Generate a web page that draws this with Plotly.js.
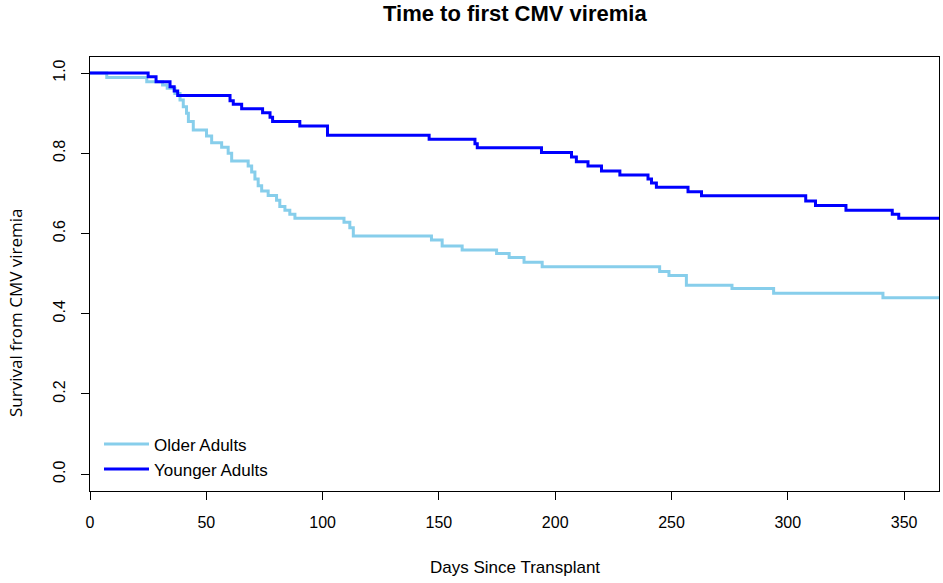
<!DOCTYPE html>
<html>
<head>
<meta charset="utf-8">
<script src="https://cdn.plot.ly/plotly-3.0.1.min.js"></script>
<style>html,body{margin:0;padding:0;background:#fff;}#chart{width:943px;height:583px;}</style>
</head>
<body>
<div id="chart"></div>
<script>
// Kaplan-Meier step data
var olderDays = [0, 7.2, 24.4, 31.2, 33.2, 36.5, 38.7, 40.1, 41.5, 42.3, 44.4, 50.1, 52.3, 56.6, 59.4, 60.9, 68.0, 69.5, 70.9, 72.3, 73.8, 76.6, 80.2, 81.6, 83.8, 85.9, 88.1, 109.2, 111.7, 113.2, 146.8, 151.4, 160, 174.8, 180.2, 186.6, 194.4, 244.9, 248.9, 256.4, 276, 293.9, 340.9, 365];
var olderSurv = [1.0, 0.989, 0.978, 0.970, 0.962, 0.949, 0.933, 0.916, 0.900, 0.879, 0.858, 0.843, 0.826, 0.815, 0.800, 0.781, 0.768, 0.753, 0.736, 0.719, 0.706, 0.695, 0.683, 0.667, 0.658, 0.648, 0.638, 0.628, 0.614, 0.594, 0.584, 0.569, 0.559, 0.550, 0.540, 0.528, 0.517, 0.505, 0.495, 0.471, 0.463, 0.451, 0.440, 0.440];
var youngerDays = [0, 25, 28.4, 34.4, 36.2, 37.7, 60.2, 61.6, 65.2, 74.2, 77.4, 78.5, 90.2, 102.1, 145.8, 165.5, 166.5, 194.1, 207, 209.1, 214.1, 219.9, 227.8, 239.9, 241.4, 243.5, 257.1, 262.9, 307.7, 311.9, 325, 344.9, 347.7, 365];
var youngerSurv = [1.0, 0.991, 0.978, 0.966, 0.955, 0.944, 0.931, 0.922, 0.911, 0.901, 0.890, 0.879, 0.868, 0.845, 0.835, 0.824, 0.814, 0.802, 0.791, 0.779, 0.768, 0.756, 0.746, 0.736, 0.726, 0.715, 0.704, 0.694, 0.681, 0.670, 0.658, 0.648, 0.638, 0.638];
var seriesNames = ["Older Adults", "Younger Adults"];
var xTicks = [0, 50, 100, 150, 200, 250, 300, 350];
var yTicks = [0.0, 0.2, 0.4, 0.6, 0.8, 1.0];
var yTickText = ["0.0", "0.2", "0.4", "0.6", "0.8", "1.0"];

var arial = "Liberation Sans, Arial, sans-serif";
var traces = [
  {x: olderDays, y: olderSurv, name: seriesNames[0], type: "scatter", mode: "lines",
   line: {shape: "hv", color: "#87CEEB", width: 3}},
  {x: youngerDays, y: youngerSurv, name: seriesNames[1], type: "scatter", mode: "lines",
   line: {shape: "hv", color: "#0000FF", width: 3}}
];
var layout = {
  width: 943, height: 583,
  margin: {l: 90, r: 4, t: 57, b: 92},
  paper_bgcolor: "#fff", plot_bgcolor: "#fff",
  font: {family: arial, color: "#000", size: 16},
  showlegend: true,
  legend: {x: 0.0106, xanchor: "left", y: 0.149, yanchor: "top",
           font: {family: arial, size: 17, color: "#000"},
           bgcolor: "rgba(0,0,0,0)", tracegroupgap: 0, itemwidth: 45},
  xaxis: {range: [0, 365], tickvals: xTicks, ticks: "outside", ticklen: 8, tickwidth: 1,
          tickcolor: "#000", showline: true, mirror: true, linecolor: "#000", linewidth: 1,
          showgrid: false, zeroline: false, ticklabelstandoff: 9,
          tickfont: {family: arial, size: 16, color: "#000"}},
  yaxis: {range: [-0.042, 1.04], tickvals: yTicks, ticktext: yTickText, ticks: "outside", ticklen: 8,
          tickwidth: 1, tickcolor: "#000", showline: true, mirror: true, linecolor: "#000",
          linewidth: 1, showgrid: false, zeroline: false, tickangle: -90, ticklabelstandoff: 10,
          tickfont: {family: arial, size: 16, color: "#000"}},
  annotations: [
    {text: "<b>Time to first CMV viremia</b>", xref: "paper", yref: "paper", x: 0.5, y: 1,
     yshift: 44, xanchor: "center", yanchor: "middle", showarrow: false,
     font: {family: arial, size: 22, color: "#000"}},
    {text: "Days Since Transplant", xref: "paper", yref: "paper", x: 0.5, y: 0,
     yshift: -76, xanchor: "center", yanchor: "middle", showarrow: false,
     font: {family: arial, size: 17, color: "#000"}},
    {text: "Survival from CMV viremia", xref: "paper", yref: "paper", x: 0, y: 0.5,
     xshift: -75, yshift: -39, textangle: -90, xanchor: "center", yanchor: "middle", showarrow: false,
     font: {family: "Open Sans, Noto Sans, sans-serif", size: 17, color: "#000"}}
  ]
};
Plotly.newPlot("chart", traces, layout, {displayModeBar: false, staticPlot: true});
</script>
</body>
</html>
